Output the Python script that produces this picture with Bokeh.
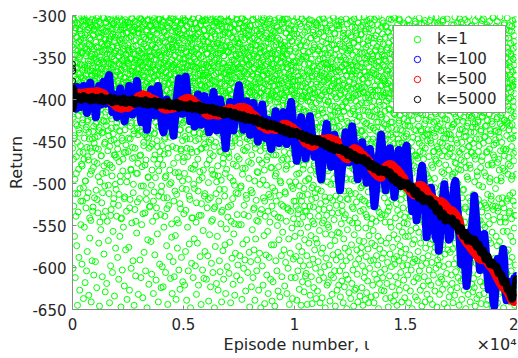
import numpy as np
from bokeh.plotting import figure
from bokeh.models import Range1d, FixedTicker, Legend, LegendItem, LinearAxis
from bokeh.embed import file_html
from bokeh.resources import INLINE

# ---------------- data ----------------
n_episodes = 20000

# k=1 : raw returns, first sampling (episode order)
green_k1_a = [
-312,-458,-367,-601,-334,-421,-389,-527,-305,-372,-446,-563,-318,-495,-356,-612,-341,-407,-383,-539,-326,-468,-398,-574,-309,-431,-362,-645,-347,-512,-377,-419,-302,-483,-395,-588,-331,-440,-351,-627,-316,-506,-369,-455,-338,-549,-391,-414,-322,-477,-359,-596,-344,-428,-381,-521,-307,-463,-374,-637,
-327,-384,-471,-305,-552,-413,-362,-339,-618,-497,-376,-311,-436,-529,-348,-393,-604,-320,-457,-366,-581,-301,-424,-385,-343,-511,-472,-358,-633,-315,-399,-447,-336,-565,-379,-308,-489,-418,-354,-544,-329,-641,-403,-371,-462,-346,-592,-387,-314,-533,-438,-363,-323,-481,-397,-609,-340,-452,-378,-517,
-318,-445,-372,-306,-593,-361,-429,-337,-508,-390,-352,-624,-313,-476,-381,-344,-417,-535,-368,-302,-459,-394,-571,-325,-433,-357,-646,-349,-498,-375,-310,-412,-386,-555,-332,-467,-364,-321,-523,-401,-343,-611,-370,-488,-317,-439,-392,-540,-355,-303,-584,-426,-380,-336,-503,-451,-366,-629,-328,-415,
-341,-309,-487,-378,-426,-619,-352,-333,-545,-396,-304,-461,-371,-437,-568,-319,-384,-512,-357,-330,-642,-405,-369,-478,-346,-316,-598,-388,-449,-531,-363,-307,-423,-375,-491,-338,-606,-399,-322,-557,-441,-359,-311,-518,-382,-466,-345,-634,-410,-373,-326,-501,-391,-577,-354,-301,-433,-469,-367,-539,
-306,-395,-452,-339,-588,-367,-412,-323,-526,-381,-614,-349,-474,-358,-302,-437,-563,-386,-331,-498,-372,-421,-647,-314,-365,-541,-393,-446,-328,-603,-354,-317,-485,-379,-409,-552,-343,-390,-311,-463,-622,-361,-336,-516,-428,-374,-305,-579,-398,-454,-347,-321,-533,-383,-416,-638,-356,-308,-491,-369,
-335,-462,-383,-312,-576,-404,-358,-341,-627,-392,-309,-519,-447,-366,-325,-483,-376,-601,-351,-428,-317,-547,-389,-304,-470,-362,-413,-592,-337,-501,-379,-320,-441,-645,-356,-396,-314,-531,-458,-373,-346,-610,-402,-368,-329,-488,-385,-559,-301,-434,-353,-522,-397,-316,-476,-370,-632,-342,-419,-364,
-321,-374,-518,-303,-437,-591,-356,-345,-466,-388,-612,-332,-409,-360,-549,-314,-480,-397,-340,-427,-636,-371,-307,-503,-383,-455,-326,-582,-351,-418,-366,-310,-535,-442,-391,-604,-337,-472,-355,-319,-511,-400,-379,-648,-348,-431,-305,-567,-362,-493,-386,-329,-446,-620,-357,-313,-528,-411,-376,-343,
-349,-311,-456,-390,-569,-326,-403,-367,-608,-336,-484,-381,-302,-545,-422,-359,-317,-631,-398,-471,-344,-510,-372,-328,-440,-585,-364,-308,-493,-416,-385,-339,-615,-353,-529,-377,-321,-449,-395,-560,-312,-477,-406,-361,-641,-333,-515,-387,-304,-432,-370,-596,-347,-462,-392,-318,-537,-425,-357,-624,
-314,-388,-503,-342,-427,-599,-365,-306,-478,-394,-623,-331,-412,-357,-552,-320,-465,-381,-339,-539,-445,-374,-301,-606,-350,-491,-368,-325,-431,-574,-389,-312,-517,-402,-360,-644,-337,-458,-382,-315,-526,-419,-371,-346,-587,-309,-484,-397,-328,-438,-613,-362,-303,-499,-377,-422,-564,-353,-318,-631,
-338,-456,-375,-304,-593,-418,-363,-329,-521,-391,-611,-348,-443,-370,-315,-487,-562,-384,-337,-406,-638,-356,-308,-513,-430,-379,-326,-577,-399,-469,-344,-319,-547,-365,-414,-603,-333,-492,-387,-302,-436,-626,-358,-373,-530,-311,-459,-396,-341,-588,-424,-367,-323,-506,-381,-449,-617,-352,-306,-474,
-317,-402,-536,-352,-469,-386,-621,-330,-444,-367,-306,-581,-395,-424,-343,-507,-376,-639,-322,-458,-361,-313,-552,-410,-383,-337,-604,-495,-369,-301,-436,-572,-354,-391,-327,-519,-447,-373,-648,-345,-308,-482,-405,-360,-595,-334,-463,-389,-316,-541,-428,-378,-612,-350,-326,-501,-398,-440,-566,-364,
-343,-309,-478,-381,-598,-361,-427,-324,-546,-400,-632,-355,-315,-462,-389,-571,-338,-415,-370,-509,-303,-621,-447,-393,-347,-538,-366,-320,-486,-432,-587,-377,-311,-459,-404,-644,-336,-524,-384,-358,-306,-493,-419,-603,-349,-372,-556,-328,-441,-397,-613,-362,-317,-515,-453,-385,-581,-340,-425,-368,
-325,-392,-457,-310,-614,-371,-438,-346,-529,-383,-302,-586,-419,-361,-331,-499,-640,-397,-352,-472,-318,-561,-406,-375,-340,-517,-623,-387,-305,-448,-366,-595,-334,-484,-412,-356,-319,-543,-394,-606,-345,-467,-378,-313,-530,-429,-362,-648,-337,-490,-401,-322,-575,-385,-451,-308,-512,-369,-619,-433,
-351,-416,-308,-563,-388,-479,-333,-627,-367,-440,-312,-521,-396,-358,-592,-324,-462,-381,-605,-345,-427,-304,-548,-373,-496,-339,-641,-410,-363,-316,-532,-454,-390,-580,-329,-470,-357,-614,-401,-348,-307,-507,-382,-435,-573,-320,-488,-369,-631,-336,-419,-392,-554,-314,-465,-376,-599,-343,-444,-361,
-306,-398,-528,-344,-463,-371,-607,-322,-436,-359,-570,-389,-315,-493,-414,-642,-338,-380,-545,-302,-452,-366,-589,-353,-426,-393,-518,-327,-620,-477,-364,-311,-560,-407,-385,-341,-502,-633,-374,-449,-319,-583,-397,-356,-511,-431,-348,-610,-378,-305,-537,-468,-391,-333,-597,-420,-362,-316,-549,-441,
-333,-471,-384,-309,-586,-423,-362,-615,-347,-505,-392,-326,-549,-438,-373,-304,-638,-412,-355,-489,-319,-572,-399,-342,-460,-601,-378,-313,-526,-445,-366,-339,-591,-405,-482,-321,-628,-387,-352,-514,-433,-308,-567,-396,-369,-457,-344,-606,-415,-381,-324,-539,-474,-358,-317,-582,-428,-391,-647,-350,
-312,-449,-376,-593,-338,-508,-401,-623,-357,-466,-389,-327,-555,-424,-370,-305,-612,-441,-386,-531,-346,-579,-410,-363,-318,-497,-639,-395,-453,-335,-566,-382,-302,-520,-430,-374,-604,-349,-486,-415,-329,-591,-367,-442,-545,-310,-627,-398,-356,-472,-322,-583,-419,-379,-340,-536,-461,-392,-648,-365,
-344,-411,-531,-319,-476,-386,-598,-353,-449,-306,-621,-372,-517,-428,-337,-562,-395,-484,-311,-643,-406,-360,-539,-455,-382,-324,-585,-437,-348,-502,-609,-369,-301,-468,-417,-557,-390,-332,-631,-443,-375,-513,-315,-588,-399,-462,-345,-546,-421,-366,-307,-614,-481,-393,-328,-573,-435,-358,-527,-640,
-327,-392,-505,-361,-617,-342,-458,-414,-573,-376,-309,-536,-438,-384,-646,-320,-491,-403,-352,-592,-466,-335,-521,-397,-370,-604,-314,-447,-550,-388,-345,-628,-425,-362,-480,-303,-567,-409,-377,-514,-329,-635,-452,-394,-541,-318,-499,-420,-357,-586,-336,-472,-611,-381,-432,-305,-558,-401,-349,-527,
-351,-428,-308,-579,-395,-462,-336,-622,-373,-510,-417,-346,-594,-321,-483,-389,-545,-440,-362,-631,-304,-471,-406,-529,-358,-601,-384,-449,-316,-566,-437,-375,-644,-342,-498,-411,-325,-583,-397,-533,-455,-366,-612,-312,-477,-420,-553,-388,-331,-637,-446,-379,-506,-355,-590,-402,-307,-521,-464,-392,
-318,-437,-563,-384,-612,-343,-498,-406,-587,-362,-527,-451,-302,-639,-393,-548,-470,-331,-604,-421,-377,-531,-349,-575,-488,-411,-626,-356,-514,-443,-310,-592,-385,-559,-467,-337,-645,-402,-521,-368,-581,-459,-323,-617,-396,-540,-432,-349,-598,-478,-372,-506,-629,-415,-307,-567,-454,-391,-533,-610,
-336,-472,-398,-607,-351,-533,-425,-586,-314,-644,-461,-379,-552,-402,-619,-344,-495,-366,-571,-438,-305,-597,-416,-527,-389,-633,-357,-484,-449,-562,-327,-611,-407,-519,-372,-643,-466,-393,-545,-320,-590,-433,-502,-361,-624,-411,-548,-476,-338,-579,-394,-511,-453,-308,-601,-428,-566,-382,-637,-489,
-309,-446,-571,-363,-628,-418,-507,-340,-593,-385,-539,-462,-322,-615,-401,-556,-478,-352,-642,-433,-371,-524,-606,-396,-315,-583,-453,-497,-368,-636,-412,-547,-331,-577,-428,-488,-304,-612,-379,-531,-465,-357,-599,-440,-516,-391,-648,-345,-560,-421,-473,-318,-589,-406,-538,-359,-621,-482,-376,-549,
-347,-485,-403,-618,-328,-552,-437,-597,-372,-529,-458,-311,-640,-390,-574,-419,-501,-355,-609,-443,-384,-561,-335,-632,-476,-408,-520,-364,-585,-427,-303,-612,-494,-381,-543,-448,-321,-604,-415,-568,-361,-646,-469,-397,-515,-340,-591,-434,-489,-373,-627,-456,-312,-558,-410,-582,-386,-535,-467,-621,
-316,-432,-559,-378,-604,-349,-518,-461,-635,-393,-587,-423,-305,-548,-486,-362,-616,-409,-533,-337,-598,-451,-383,-642,-475,-321,-566,-414,-509,-358,-623,-440,-391,-577,-328,-537,-468,-402,-609,-353,-592,-495,-371,-649,-426,-310,-555,-447,-384,-614,-519,-342,-581,-434,-398,-630,-479,-366,-544,-457,
-339,-465,-588,-401,-637,-324,-512,-443,-573,-370,-619,-428,-306,-547,-482,-359,-603,-414,-530,-387,-646,-452,-333,-561,-497,-376,-627,-418,-541,-314,-596,-469,-395,-625,-351,-522,-436,-579,-366,-608,-489,-408,-641,-329,-553,-446,-384,-590,-474,-302,-568,-421,-516,-361,-634,-459,-393,-583,-437,-505,
-322,-448,-576,-386,-624,-357,-503,-437,-598,-375,-645,-413,-531,-308,-569,-476,-392,-612,-344,-521,-459,-605,-367,-638,-429,-553,-316,-587,-491,-404,-630,-352,-540,-463,-381,-616,-335,-578,-447,-510,-398,-642,-326,-562,-484,-419,-601,-371,-526,-455,-304,-592,-432,-548,-389,-635,-468,-346,-571,-409,
-311,-479,-395,-621,-348,-556,-434,-591,-369,-642,-462,-522,-327,-608,-413,-574,-389,-497,-341,-633,-451,-545,-302,-586,-427,-614,-376,-508,-466,-355,-597,-439,-563,-318,-649,-482,-403,-534,-362,-619,-447,-578,-332,-501,-418,-606,-384,-568,-473,-343,-627,-421,-537,-397,-589,-456,-306,-612,-490,-374,
-334,-461,-583,-407,-628,-352,-517,-449,-602,-378,-546,-431,-313,-637,-486,-392,-571,-423,-509,-365,-619,-468,-338,-594,-442,-533,-381,-647,-476,-320,-565,-412,-528,-399,-610,-345,-584,-455,-370,-636,-497,-427,-552,-305,-599,-434,-519,-386,-623,-471,-358,-576,-445,-507,-329,-640,-416,-561,-393,-590,
-347,-472,-596,-389,-633,-315,-541,-458,-611,-373,-524,-436,-587,-356,-645,-494,-409,-566,-331,-619,-447,-503,-382,-592,-428,-551,-304,-627,-481,-364,-574,-419,-537,-396,-606,-340,-582,-463,-512,-375,-641,-452,-325,-558,-437,-598,-401,-529,-468,-359,-615,-423,-547,-384,-589,-311,-636,-475,-416,-563,
-321,-453,-578,-398,-624,-361,-509,-441,-597,-372,-548,-426,-609,-335,-487,-563,-404,-642,-457,-381,-531,-312,-585,-432,-517,-369,-628,-474,-394,-556,-346,-603,-419,-538,-461,-326,-649,-502,-383,-572,-445,-594,-358,-521,-412,-617,-479,-340,-567,-436,-590,-388,-526,-307,-635,-466,-415,-553,-374,-612,
-338,-467,-592,-414,-639,-353,-525,-447,-581,-386,-613,-432,-558,-319,-496,-604,-377,-543,-462,-365,-627,-401,-571,-329,-515,-438,-598,-484,-392,-646,-455,-358,-537,-418,-589,-343,-622,-471,-506,-384,-564,-309,-611,-443,-532,-396,-641,-458,-362,-577,-425,-518,-371,-595,-489,-333,-632,-410,-552,-449,
-314,-442,-586,-393,-616,-359,-531,-468,-603,-381,-547,-425,-638,-337,-498,-572,-409,-621,-452,-366,-539,-302,-594,-436,-513,-375,-644,-481,-401,-567,-348,-609,-427,-554,-462,-323,-582,-494,-388,-628,-444,-576,-356,-519,-417,-601,-473,-331,-561,-435,-647,-397,-527,-309,-591,-459,-412,-545,-370,-618,
-342,-476,-597,-408,-632,-364,-522,-451,-588,-379,-611,-437,-565,-326,-503,-614,-392,-541,-467,-351,-626,-419,-573,-305,-509,-446,-599,-488,-383,-643,-461,-357,-534,-423,-584,-339,-620,-478,-516,-396,-561,-317,-607,-441,-529,-401,-648,-456,-371,-579,-431,-552,-362,-596,-484,-346,-635,-413,-548,-465,
-329,-458,-582,-402,-627,-355,-536,-447,-609,-374,-551,-433,-619,-341,-492,-578,-415,-642,-468,-386,-524,-311,-596,-429,-518,-366,-633,-487,-397,-571,-338,-605,-421,-547,-476,-318,-589,-499,-391,-624,-452,-563,-348,-527,-407,-612,-483,-333,-557,-441,-645,-385,-531,-304,-598,-464,-418,-542,-377,-616,
-316,-472,-591,-396,-638,-351,-517,-459,-603,-382,-566,-426,-614,-337,-507,-583,-411,-627,-444,-369,-546,-324,-598,-438,-528,-379,-649,-481,-405,-574,-346,-611,-432,-553,-467,-308,-587,-495,-393,-632,-456,-569,-359,-534,-419,-606,-478,-341,-562,-448,-641,-387,-521,-313,-594,-463,-422,-549,-374,-620,
-335,-463,-586,-407,-629,-362,-531,-452,-613,-385,-559,-439,-624,-343,-498,-571,-418,-646,-471,-392,-537,-321,-595,-433,-523,-373,-637,-486,-403,-566,-352,-608,-427,-544,-462,-329,-591,-502,-389,-633,-447,-578,-366,-526,-414,-617,-481,-338,-561,-436,-643,-395,-534,-306,-603,-468,-421,-549,-379,-622,
-319,-452,-578,-391,-631,-347,-523,-445,-604,-372,-552,-432,-618,-333,-491,-584,-408,-644,-463,-381,-529,-314,-597,-425,-513,-365,-639,-478,-396,-567,-341,-611,-417,-548,-459,-326,-593,-494,-387,-626,-441,-571,-357,-519,-402,-614,-476,-336,-558,-429,-647,-383,-527,-302,-599,-466,-413,-543,-368,-621,
-344,-469,-589,-411,-635,-366,-527,-448,-612,-389,-563,-437,-627,-348,-496,-574,-421,-642,-475,-394,-533,-327,-598,-439,-518,-377,-631,-484,-404,-569,-355,-606,-429,-546,-461,-322,-586,-497,-392,-629,-451,-577,-361,-524,-416,-619,-482,-339,-557,-434,-648,-386,-529,-311,-596,-467,-424,-541,-372,-614,
-327,-461,-582,-403,-626,-358,-521,-443,-607,-381,-557,-428,-621,-339,-489,-579,-412,-638,-469,-386,-535,-318,-593,-431,-514,-371,-641,-479,-398,-563,-346,-604,-422,-542,-456,-313,-588,-491,-383,-632,-446,-569,-352,-521,-409,-615,-473,-331,-553,-437,-645,-379,-526,-305,-597,-462,-417,-538,-365,-619,
]

# k=1 : raw returns, second (interleaved) sampling
green_k1_b = [
-304,-352,-417,-338,-471,-366,-321,-398,-443,-309,-385,-512,-347,-362,-429,-315,-376,-488,-333,-404,-357,-326,-451,-391,-342,-534,-369,-311,-436,-380,-349,-463,-318,-395,-407,-358,-329,-521,-373,-344,-412,-301,-388,-479,-336,-365,-424,-313,-397,-505,
-331,-378,-302,-446,-359,-414,-323,-387,-497,-345,-371,-306,-433,-392,-517,-340,-363,-426,-317,-468,-383,-354,-308,-439,-401,-334,-376,-541,-327,-458,-366,-312,-421,-394,-349,-485,-337,-372,-305,-447,-406,-360,-528,-324,-389,-432,-351,-316,-474,-368,
-347,-312,-405,-369,-458,-332,-391,-303,-427,-376,-519,-355,-338,-444,-384,-321,-492,-362,-409,-307,-437,-395,-343,-546,-370,-326,-418,-381,-353,-467,-315,-398,-440,-334,-363,-511,-388,-302,-425,-357,-341,-479,-374,-319,-453,-402,-329,-386,-533,-350,
-319,-364,-431,-308,-397,-476,-346,-355,-412,-334,-381,-502,-313,-443,-367,-328,-389,-456,-341,-305,-419,-372,-538,-358,-325,-434,-393,-349,-481,-316,-376,-403,-337,-361,-524,-384,-309,-448,-352,-331,-415,-399,-466,-323,-371,-342,-507,-387,-314,-428,
-336,-401,-311,-459,-378,-348,-423,-302,-386,-513,-357,-329,-438,-370,-344,-491,-317,-395,-365,-542,-333,-412,-382,-306,-449,-359,-322,-471,-397,-340,-426,-374,-315,-518,-363,-351,-436,-388,-308,-463,-346,-405,-327,-379,-498,-354,-320,-417,-392,-339,
-308,-357,-446,-381,-327,-409,-343,-529,-370,-314,-432,-396,-352,-484,-325,-388,-303,-421,-366,-340,-457,-375,-318,-511,-399,-346,-437,-361,-330,-469,-384,-307,-415,-353,-392,-545,-336,-372,-428,-311,-403,-364,-488,-348,-321,-442,-379,-356,-309,-418,
-342,-316,-393,-467,-355,-331,-425,-386,-304,-503,-368,-345,-439,-377,-323,-412,-359,-536,-389,-312,-451,-334,-373,-407,-349,-301,-478,-394,-362,-430,-328,-381,-519,-351,-317,-445,-398,-339,-421,-367,-306,-492,-375,-343,-458,-384,-324,-410,-358,-527,
-325,-382,-437,-313,-369,-502,-348,-394,-306,-453,-361,-335,-419,-387,-521,-319,-374,-441,-352,-303,-398,-466,-338,-365,-427,-311,-389,-539,-347,-378,-409,-329,-456,-371,-316,-432,-393,-344,-485,-357,-305,-414,-383,-331,-471,-366,-350,-423,-397,-510,
-311,-349,-404,-372,-455,-327,-385,-308,-432,-363,-517,-341,-396,-319,-447,-378,-354,-493,-332,-410,-367,-302,-439,-389,-345,-530,-323,-375,-418,-358,-314,-464,-399,-337,-426,-381,-306,-501,-356,-392,-343,-445,-370,-329,-412,-386,-548,-334,-361,-437,
-338,-301,-418,-383,-341,-476,-359,-326,-433,-395,-312,-509,-372,-347,-421,-388,-318,-458,-364,-335,-543,-401,-355,-307,-442,-379,-330,-487,-368,-316,-415,-393,-351,-524,-322,-384,-436,-345,-309,-461,-376,-339,-403,-362,-327,-497,-390,-303,-428,-357,
-317,-371,-426,-339,-488,-362,-306,-415,-384,-351,-532,-325,-398,-447,-344,-313,-409,-377,-468,-333,-359,-301,-436,-392,-348,-515,-321,-381,-424,-366,-310,-459,-397,-337,-403,-355,-329,-541,-386,-342,-418,-304,-374,-483,-361,-327,-439,-395,-316,-506,
-352,-328,-401,-374,-449,-309,-386,-340,-523,-363,-315,-432,-397,-346,-471,-322,-378,-413,-357,-303,-496,-389,-334,-440,-369,-311,-427,-382,-350,-538,-326,-393,-458,-341,-365,-307,-419,-376,-331,-484,-358,-399,-318,-445,-371,-337,-512,-384,-305,-429,
-306,-359,-438,-387,-324,-477,-345,-368,-412,-332,-396,-519,-315,-373,-451,-356,-338,-403,-381,-302,-464,-363,-327,-430,-392,-349,-545,-319,-377,-421,-342,-311,-489,-395,-360,-407,-334,-371,-456,-308,-386,-528,-353,-325,-434,-379,-346,-414,-300,-498,
-333,-387,-304,-426,-362,-345,-491,-318,-399,-437,-354,-329,-507,-375,-341,-418,-310,-390,-462,-367,-336,-534,-381,-313,-444,-357,-402,-323,-476,-393,-348,-301,-421,-369,-337,-515,-384,-320,-453,-361,-396,-342,-409,-307,-483,-374,-331,-427,-365,-540,
-321,-343,-412,-378,-307,-469,-356,-389,-335,-438,-367,-314,-526,-394,-349,-424,-326,-381,-456,-302,-371,-408,-340,-497,-362,-319,-433,-386,-353,-548,-331,-399,-445,-310,-375,-417,-346,-364,-479,-328,-392,-305,-441,-358,-337,-512,-383,-316,-427,-369,
-346,-309,-395,-452,-334,-372,-418,-322,-364,-503,-387,-351,-303,-439,-376,-340,-482,-357,-315,-425,-398,-329,-537,-368,-344,-411,-306,-389,-461,-353,-327,-431,-380,-312,-518,-361,-396,-447,-338,-370,-301,-422,-385,-348,-494,-323,-359,-436,-392,-330,
-313,-367,-429,-341,-384,-476,-320,-398,-355,-511,-334,-372,-416,-305,-446,-391,-348,-363,-529,-327,-404,-379,-342,-458,-311,-386,-433,-359,-336,-544,-396,-318,-421,-370,-350,-487,-302,-381,-441,-364,-331,-409,-375,-345,-501,-324,-393,-452,-357,-316,
-337,-392,-308,-443,-361,-326,-415,-380,-496,-349,-371,-303,-427,-388,-342,-521,-366,-314,-458,-399,-333,-405,-358,-321,-472,-377,-346,-437,-310,-390,-533,-355,-369,-418,-328,-384,-449,-340,-304,-401,-363,-516,-379,-352,-425,-317,-396,-481,-345,-374,
-324,-351,-411,-384,-319,-466,-358,-337,-432,-395,-306,-509,-372,-346,-421,-363,-331,-488,-389,-312,-445,-377,-353,-403,-327,-540,-366,-399,-318,-456,-382,-341,-428,-302,-369,-497,-356,-387,-414,-334,-378,-525,-348,-310,-439,-393,-361,-407,-339,-470,
-343,-315,-398,-453,-368,-332,-419,-386,-304,-512,-357,-376,-436,-321,-391,-479,-346,-362,-408,-336,-531,-381,-309,-447,-370,-354,-425,-327,-397,-464,-340,-373,-317,-438,-389,-359,-503,-330,-384,-415,-349,-301,-459,-376,-365,-542,-322,-395,-431,-356,
-316,-378,-462,-405,-339,-521,-367,-431,-354,-489,-322,-396,-447,-383,-308,-536,-372,-418,-345,-474,-361,-327,-503,-409,-390,-441,-335,-548,-376,-313,-457,-399,-352,-428,-304,-515,-384,-369,-483,-342,-412,-330,-466,-395,-358,-527,-320,-437,-381,-497,
-349,-301,-414,-472,-386,-332,-448,-365,-513,-397,-318,-439,-376,-357,-494,-310,-423,-389,-343,-539,-368,-403,-327,-461,-382,-352,-426,-306,-505,-373,-398,-341,-451,-317,-387,-528,-360,-415,-335,-479,-392,-324,-436,-370,-346,-517,-311,-404,-458,-379,
-328,-366,-433,-391,-312,-486,-354,-420,-342,-531,-375,-305,-446,-399,-361,-474,-337,-411,-383,-320,-509,-358,-395,-440,-346,-372,-302,-492,-416,-351,-388,-544,-325,-429,-369,-340,-463,-309,-401,-377,-521,-356,-333,-452,-389,-315,-437,-364,-498,-380,
-357,-319,-402,-458,-374,-338,-427,-390,-306,-517,-363,-412,-345,-481,-328,-396,-370,-442,-315,-535,-384,-351,-419,-362,-301,-470,-393,-335,-433,-376,-347,-501,-322,-408,-386,-454,-340,-367,-526,-311,-399,-425,-353,-378,-489,-330,-414,-365,-307,-447,
-312,-384,-446,-367,-334,-503,-395,-421,-353,-477,-308,-389,-438,-361,-526,-342,-407,-376,-325,-462,-399,-350,-414,-317,-541,-381,-366,-435,-339,-493,-403,-358,-304,-451,-372,-330,-518,-387,-410,-345,-469,-321,-396,-428,-363,-509,-336,-379,-441,-355,
-341,-307,-417,-388,-359,-495,-326,-433,-373,-314,-528,-398,-347,-452,-366,-332,-411,-381,-304,-484,-393,-355,-439,-318,-512,-369,-402,-343,-466,-385,-321,-426,-360,-547,-337,-394,-446,-309,-378,-419,-352,-491,-329,-406,-371,-344,-533,-387,-313,-458,
-323,-362,-438,-404,-345,-519,-376,-312,-457,-391,-334,-426,-367,-302,-501,-385,-351,-443,-319,-413,-398,-338,-537,-357,-372,-428,-306,-482,-394,-348,-415,-330,-465,-380,-361,-524,-316,-401,-436,-343,-374,-309,-496,-389,-355,-451,-327,-420,-368,-542,
-352,-318,-391,-447,-365,-333,-476,-402,-357,-421,-305,-513,-384,-342,-437,-370,-324,-498,-396,-360,-412,-337,-529,-378,-311,-454,-389,-349,-427,-301,-486,-373,-354,-443,-328,-407,-395,-541,-340,-366,-418,-314,-470,-383,-347,-434,-322,-507,-392,-359,
-309,-376,-429,-395,-348,-488,-361,-414,-326,-537,-382,-354,-447,-313,-402,-370,-341,-471,-387,-319,-523,-366,-435,-398,-333,-459,-304,-411,-378,-352,-546,-325,-393,-442,-360,-315,-480,-384,-406,-346,-427,-369,-337,-511,-390,-302,-453,-373,-417,-356,
-336,-303,-418,-384,-362,-506,-347,-396,-441,-321,-374,-463,-355,-311,-532,-389,-408,-340,-452,-367,-329,-425,-381,-306,-494,-359,-401,-436,-344,-371,-519,-316,-392,-457,-353,-327,-413,-386,-364,-478,-338,-309,-445,-399,-357,-540,-323,-379,-431,-348,
-327,-369,-444,-401,-351,-517,-381,-312,-458,-394,-339,-431,-362,-305,-502,-386,-418,-345,-476,-373,-320,-539,-357,-409,-390,-333,-451,-366,-300,-488,-397,-342,-425,-378,-316,-528,-359,-413,-384,-348,-467,-329,-403,-371,-310,-514,-392,-437,-354,-481,
-344,-314,-407,-388,-332,-470,-365,-423,-349,-541,-376,-303,-452,-395,-358,-416,-325,-499,-382,-341,-436,-368,-310,-521,-399,-353,-445,-334,-388,-463,-319,-411,-372,-547,-346,-394,-429,-306,-484,-361,-377,-418,-338,-510,-385,-323,-441,-364,-350,-492,
-315,-383,-436,-359,-328,-494,-397,-412,-343,-527,-370,-306,-449,-386,-354,-421,-331,-478,-391,-366,-318,-538,-375,-404,-347,-462,-323,-398,-440,-361,-309,-505,-389,-415,-338,-471,-357,-302,-519,-379,-426,-350,-456,-336,-393,-543,-368,-311,-432,-402,
-348,-320,-405,-463,-377,-337,-429,-391,-312,-512,-364,-418,-345,-486,-329,-399,-452,-372,-307,-534,-388,-356,-437,-341,-410,-381,-318,-497,-367,-403,-446,-333,-376,-525,-352,-394,-424,-304,-468,-385,-359,-413,-326,-508,-396,-343,-441,-370,-315,-547,
-322,-361,-442,-397,-341,-521,-386,-311,-458,-372,-407,-336,-489,-353,-394,-430,-317,-537,-378,-345,-417,-365,-302,-475,-399,-358,-448,-328,-391,-513,-370,-339,-426,-383,-309,-500,-355,-412,-367,-331,-462,-390,-348,-541,-314,-404,-436,-376,-359,-484,
-353,-308,-399,-451,-368,-326,-435,-380,-346,-508,-391,-317,-421,-363,-474,-339,-402,-385,-305,-530,-372,-356,-444,-331,-409,-394,-349,-492,-318,-377,-428,-362,-344,-517,-389,-301,-456,-370,-335,-415,-398,-482,-323,-366,-439,-352,-543,-383,-312,-420,
-318,-371,-433,-390,-337,-513,-358,-405,-382,-325,-467,-347,-396,-429,-306,-535,-374,-361,-447,-339,-412,-387,-315,-491,-368,-350,-425,-302,-519,-393,-343,-455,-379,-331,-408,-364,-544,-321,-385,-438,-356,-310,-473,-398,-345,-420,-372,-504,-334,-389,
-340,-304,-416,-376,-355,-487,-332,-401,-444,-367,-319,-526,-392,-348,-431,-384,-311,-462,-359,-403,-336,-539,-378,-323,-449,-395,-352,-418,-307,-498,-371,-386,-437,-344,-316,-515,-399,-362,-426,-330,-478,-381,-349,-410,-303,-531,-366,-391,-454,-327,
-326,-382,-438,-364,-346,-506,-397,-313,-452,-378,-334,-423,-389,-307,-529,-358,-411,-371,-342,-471,-320,-399,-445,-353,-385,-302,-540,-366,-419,-337,-493,-375,-349,-432,-392,-316,-517,-361,-404,-383,-330,-459,-347,-396,-425,-309,-485,-370,-357,-546,
-351,-317,-394,-459,-373,-338,-426,-386,-303,-518,-365,-408,-344,-477,-327,-399,-436,-356,-312,-533,-380,-361,-447,-333,-413,-391,-348,-495,-319,-376,-430,-367,-306,-511,-384,-402,-339,-464,-359,-324,-420,-393,-350,-538,-371,-310,-443,-382,-337,-489,
]

# k=100 moving average, one value every 50 episodes (0 ... 20000)
blue_step = 50
blue_k100 = [
-387,-405,-392,-411,-385,-400,-389,-409,-395,-403,
-384,-394,-408,-416,-404,-389,-380,-392,-406,-396,
-411,-421,-408,-394,-384,-396,-406,-389,-379,-391,
-405,-388,-375,-371,-386,-402,-415,-408,-394,-410,
-421,-413,-399,-387,-397,-410,-419,-426,-415,-404,
-394,-384,-392,-406,-418,-410,-396,-387,-378,-390,
-405,-417,-427,-415,-400,-413,-425,-436,-423,-409,
-398,-388,-396,-410,-419,-408,-395,-384,-393,-406,
-423,-435,-439,-425,-413,-400,-411,-423,-431,-419,
-432,-443,-429,-413,-397,-385,-375,-389,-403,-417,
-402,-388,-373,-386,-400,-414,-426,-416,-404,-420,
-432,-420,-406,-394,-404,-418,-430,-422,-408,-396,
-407,-421,-431,-439,-427,-415,-401,-391,-403,-417,
-437,-426,-412,-400,-408,-422,-434,-446,-458,-444,
-429,-415,-403,-411,-425,-437,-427,-411,-399,-389,
-383,-396,-410,-424,-436,-428,-414,-402,-412,-426,
-442,-432,-418,-404,-414,-428,-440,-450,-438,-424,
-416,-406,-420,-434,-446,-438,-424,-440,-452,-459,
-450,-438,-424,-414,-426,-440,-452,-442,-428,-418,
-415,-427,-441,-453,-441,-425,-411,-403,-417,-431,
-451,-463,-473,-461,-447,-433,-421,-431,-445,-455,
-470,-458,-442,-430,-420,-432,-444,-458,-468,-456,
-447,-461,-475,-487,-495,-481,-465,-451,-439,-429,
-444,-454,-468,-480,-470,-456,-442,-452,-466,-480,
-497,-508,-493,-479,-465,-451,-439,-449,-463,-475,
-459,-445,-432,-443,-457,-471,-483,-495,-483,-471,
-463,-451,-461,-475,-489,-499,-487,-473,-459,-469,
-494,-510,-527,-514,-500,-484,-468,-454,-442,-456,
-480,-494,-508,-498,-484,-470,-458,-468,-482,-496,
-516,-504,-488,-474,-460,-472,-486,-502,-482,-462,
-459,-455,-473,-489,-505,-519,-533,-521,-507,-523,
-544,-530,-514,-498,-484,-479,-494,-514,-538,-564,
-555,-539,-521,-505,-515,-533,-549,-563,-567,-551,
-580,-565,-547,-529,-513,-501,-515,-533,-551,-567,
-565,-549,-531,-515,-501,-497,-513,-533,-553,-571,
-596,-582,-566,-584,-606,-622,-610,-592,-574,-556,
-551,-535,-515,-531,-549,-567,-587,-603,-589,-571,
-576,-560,-574,-594,-612,-626,-612,-598,-618,-640,
-646,-626,-606,-590,-598,-616,-608,-588,-578,-592,
-629,-639,-631,-617,-627,-637,-629,-619,-613,-621,
-610,
]

# k=500 moving average, one value every 100 episodes (0 ... 20000)
red_step = 100
red_k500 = [
-396,-395,-394,-393,-394, -393,-393,-392,-392,-392,
-392,-391,-392,-393,-394, -398,-399,-401,-403,-405,
-408,-409,-410,-409,-408, -409,-407,-405,-402,-399,
-397,-396,-395,-396,-397, -399,-400,-401,-403,-405,
-408,-410,-411,-410,-410, -410,-409,-407,-405,-403,
-401,-400,-399,-400,-401, -405,-406,-408,-410,-412,
-416,-418,-418,-417,-417, -418,-418,-417,-415,-413,
-412,-411,-412,-413,-413, -410,-410,-410,-411,-412,
-416,-418,-420,-423,-426, -431,-432,-434,-435,-434,
-434,-435,-435,-434,-433, -430,-430,-431,-433,-434,
-437,-439,-441,-443,-446, -451,-452,-454,-455,-454,
-451,-449,-448,-448,-449, -447,-447,-448,-449,-450,
-461,-464,-466,-469,-470, -464,-461,-459,-460,-462,
-466,-467,-470,-473,-476, -483,-486,-489,-491,-492,
-484,-481,-479,-478,-479, -482,-484,-487,-491,-494,
-502,-505,-508,-511,-513, -505,-503,-503,-505,-508,
-514,-516,-518,-521,-523, -522,-522,-524,-527,-530,
-533,-533,-536,-540,-545, -558,-563,-567,-571,-574,
-578,-581,-584,-588,-590, -590,-591,-593,-597,-600,
-604,-609,-614,-619,-623, -624,-628,-633,-638,-640,
-636,
]

# k=5000 moving average: first episodes, then one value every 100 episodes (100 ... 20000)
black_start_ep = [0, 2, 4, 6, 8, 12, 16, 20, 25, 30, 40, 50, 60, 70, 80, 90]
black_start = [-358, -363, -366, -378, -410, -387, -406, -391, -408, -394, -404, -390, -401, -395, -399, -396]
black_step = 100
black_k5000 = [
-395,-399,-397,-400,-396,-399,-398,-401,-397,-400,
-398,-401,-397,-402,-399,-401,-398,-403,-399,-402,
-400,-403,-399,-404,-401,-403,-400,-405,-401,-404,
-402,-405,-401,-406,-403,-405,-402,-407,-403,-406,
-404,-407,-403,-408,-405,-408,-404,-410,-406,-409,
-407,-410,-406,-411,-408,-411,-407,-413,-409,-412,
-410,-413,-410,-415,-412,-416,-413,-418,-414,-417,
-415,-419,-416,-421,-418,-422,-419,-424,-421,-424,
-422,-426,-423,-428,-425,-430,-427,-432,-429,-432,
-430,-434,-432,-437,-434,-439,-436,-441,-438,-441,
-439,-443,-441,-446,-443,-448,-445,-450,-447,-450,
-448,-452,-450,-455,-453,-458,-455,-460,-457,-460,
-458,-462,-460,-466,-463,-469,-466,-472,-469,-472,
-470,-475,-473,-480,-477,-483,-480,-486,-483,-486,
-484,-489,-487,-495,-492,-499,-496,-503,-499,-502,
-500,-506,-504,-512,-509,-517,-514,-521,-518,-521,
-519,-526,-524,-533,-530,-539,-536,-544,-541,-544,
-542,-549,-547,-556,-553,-562,-559,-568,-565,-569,
-567,-575,-573,-582,-580,-590,-587,-596,-594,-598,
-599,-607,-608,-617,-616,-626,-629,-637,-631,-614,
]

series_labels = ["k=1", "k=100", "k=500", "k=5000"]
series_colors = ["#00ff00", "#0000ff", "#ff0000", "#000000"]

x_ticks = [0, 5000, 10000, 15000, 20000]
x_tick_labels = ["0", "0.5", "1", "1.5", "2"]
y_ticks = [-650, -600, -550, -500, -450, -400, -350, -300]
y_tick_labels = ["-650", "-600", "-550", "-500", "-450", "-400", "-350", "-300"]
x_title = "Episode number, ι"
y_title = "Return"
x_multiplier = "×10⁴"

# ---------------- episode positions ----------------
green_ep = list(np.arange(len(green_k1_a)) * (n_episodes / len(green_k1_a))) + \
           list((np.arange(len(green_k1_b)) + 0.5) * (n_episodes / len(green_k1_b)))
green_vals = list(green_k1_a) + list(green_k1_b)
blue_ep = list(np.arange(len(blue_k100)) * blue_step)
red_ep = list(np.arange(len(red_k500)) * red_step)
black_reg_ep = list(np.arange(1, len(black_k5000) + 1) * black_step)
black_ep = list(black_start_ep) + black_reg_ep
black_vals = list(black_start) + list(black_k5000)

# ---------------- figure ----------------
p = figure(width=518, height=358, output_backend="svg", toolbar_location=None,
           x_range=Range1d(0, n_episodes), y_range=Range1d(-650, -300),
           min_border_left=72, min_border_right=2, min_border_top=15, min_border_bottom=49,
           background_fill_color="white", border_fill_color="white")
p.outline_line_color = None
p.grid.visible = False

font = "DejaVu Sans"
ink = "#262626"
axis_grey = "#8a8a8a"

# k=1 raw returns
r_green = p.scatter(x=green_ep, y=green_vals, marker="circle", size=6,
                    fill_color=None, line_color=series_colors[0], line_width=1)

# dense moving-average series: thick trace through the values plus the circles
p.line(x=blue_ep, y=blue_k100, line_color=series_colors[1], line_width=8,
       line_join="round", line_cap="round")
r_blue = p.scatter(x=blue_ep, y=blue_k100, marker="circle", size=6,
                   fill_color=None, line_color=series_colors[1], line_width=1)

p.line(x=red_ep, y=red_k500, line_color=series_colors[2], line_width=10,
       line_join="round", line_cap="round")
r_red = p.scatter(x=red_ep, y=red_k500, marker="circle", size=6,
                  fill_color=None, line_color=series_colors[2], line_width=1)

p.line(x=list(black_start_ep[4:]) + black_reg_ep, y=list(black_start[4:]) + list(black_k5000),
       line_color=series_colors[3], line_width=8, line_join="round", line_cap="round")
r_black = p.scatter(x=black_ep, y=black_vals, marker="circle", size=6,
                    fill_color=None, line_color=series_colors[3], line_width=1)

renderers = [r_green, r_blue, r_red, r_black]

for ax in (p.xaxis[0], p.yaxis[0]):
    ax.axis_line_color = axis_grey
    ax.major_tick_line_color = axis_grey
    ax.major_tick_in = 4
    ax.major_tick_out = 0
    ax.minor_tick_line_color = None
    ax.major_label_text_font = font
    ax.major_label_text_font_size = "15px"
    ax.major_label_text_color = ink
    ax.axis_label_text_font = font
    ax.axis_label_text_font_size = "16px"
    ax.axis_label_text_font_style = "normal"
    ax.axis_label_text_color = ink

p.xaxis.ticker = FixedTicker(ticks=x_ticks)
p.xaxis.major_label_overrides = {t: s for t, s in zip(x_ticks, x_tick_labels)}
p.xaxis.major_label_standoff = 8
p.yaxis.ticker = FixedTicker(ticks=y_ticks)
p.yaxis.major_label_overrides = {t: s for t, s in zip(y_ticks, y_tick_labels)}
p.yaxis.axis_label = y_title
p.yaxis.major_label_standoff = 6
p.yaxis.axis_label_standoff = 3

# second, line-less axis row under the tick labels: x title (centred) and the x10^4 multiplier
title_row = LinearAxis(ticker=FixedTicker(ticks=[10090, 19100]),
                       major_label_overrides={10090: x_title, 19100: x_multiplier},
                       axis_line_color=None, major_tick_line_color=None, minor_tick_line_color=None,
                       major_tick_in=0, major_tick_out=0,
                       major_label_text_font=font, major_label_text_font_size="16px",
                       major_label_text_color=ink, major_label_standoff=2)
p.add_layout(title_row, "below")

legend = Legend(items=[LegendItem(label=lab, renderers=[r]) for lab, r in zip(series_labels, renderers)],
                location="top_right", margin=10, padding=3, spacing=0,
                label_height=20, glyph_height=16, glyph_width=40, label_standoff=0, label_width=65,
                label_text_font=font, label_text_font_size="15px", label_text_color=ink,
                border_line_color=ink, border_line_width=1,
                background_fill_color="white", background_fill_alpha=1.0)
p.add_layout(legend)

open("out.html", "w").write(file_html(p, INLINE))
